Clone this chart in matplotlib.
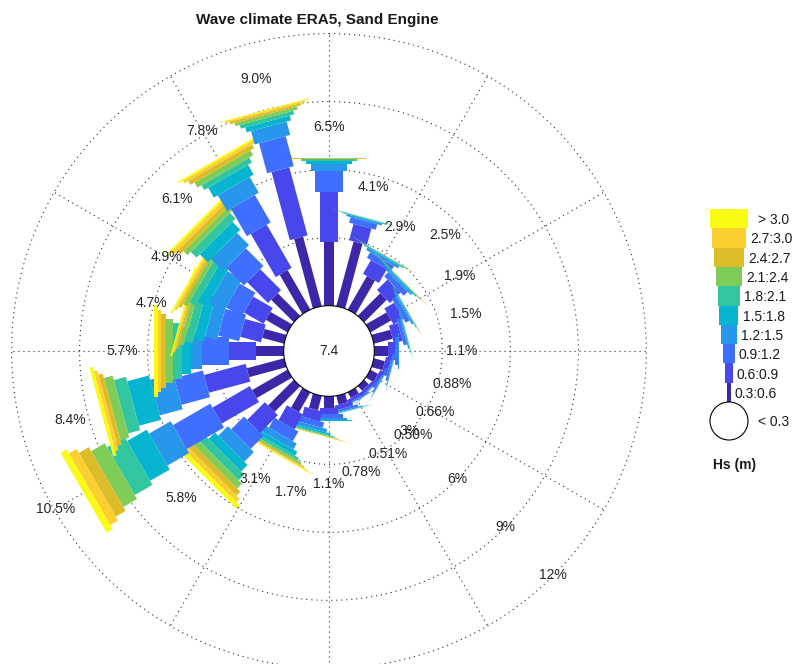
import numpy as np
import matplotlib
matplotlib.use('Agg')
import matplotlib.pyplot as plt
from matplotlib.patches import Polygon, Circle, Rectangle

plt.rcParams['font.family'] = ['Liberation Sans', 'DejaVu Sans']

# wave directions (coming from, degrees clockwise from north)
directions = np.arange(0, 360, 15)

# frequency (%) per Hs class and direction
hs_03_06 = [2.83, 2.95, 1.70, 1.40, 1.05, 0.85, 0.62, 0.50, 0.38, 0.28, 0.28, 0.40,
            0.50, 0.65, 1.00, 1.60, 1.80, 1.70, 1.20, 1.00, 1.10, 1.40, 2.00, 3.17]
hs_06_09 = [2.20, 0.75, 0.70, 0.65, 0.50, 0.40, 0.30, 0.24, 0.18, 0.14, 0.14, 0.20,
            0.30, 0.45, 0.75, 1.10, 1.90, 1.90, 1.20, 0.95, 1.00, 1.30, 2.20, 3.11]
hs_09_12 = [0.89, 0.25, 0.28, 0.25, 0.20, 0.15, 0.11, 0.09, 0.065, 0.05, 0.055, 0.10,
            0.15, 0.25, 0.50, 0.80, 1.90, 1.30, 1.20, 0.95, 0.80, 1.10, 1.40, 1.37]
hs_12_15 = [0.34, 0.08, 0.12, 0.10, 0.08, 0.06, 0.045, 0.035, 0.025, 0.02, 0.022, 0.045,
            0.08, 0.15, 0.30, 0.60, 1.10, 1.05, 0.50, 0.55, 0.75, 0.75, 0.80, 0.61]
hs_15_18 = [0.14, 0.04, 0.05, 0.05, 0.035, 0.025, 0.015, 0.01, 0.007, 0.007, 0.008, 0.02,
            0.04, 0.08, 0.20, 0.40, 1.00, 1.00, 0.40, 0.45, 0.45, 0.50, 0.50, 0.22]
hs_18_21 = [0.06, 0.02, 0.03, 0.025, 0.02, 0.01, 0.007, 0.005, 0.003, 0.003, 0.003, 0.01,
            0.02, 0.05, 0.12, 0.35, 0.90, 0.55, 0.40, 0.35, 0.30, 0.35, 0.25, 0.17]
hs_21_24 = [0.03, 0.01, 0.01, 0.01, 0.01, 0.005, 0.003, 0, 0, 0, 0.002, 0.005,
            0.007, 0.03, 0.09, 0.30, 0.70, 0.40, 0.30, 0.20, 0.20, 0.25, 0.25, 0.14]
hs_24_27 = [0.01, 0, 0.01, 0.01, 0.005, 0, 0, 0, 0, 0, 0, 0,
            0.003, 0.02, 0.06, 0.25, 0.50, 0.20, 0.20, 0.10, 0.12, 0.20, 0.20, 0.10]
hs_27_30 = [0, 0, 0, 0.005, 0, 0, 0, 0, 0, 0, 0, 0,
            0, 0.01, 0.04, 0.20, 0.40, 0.15, 0.15, 0.08, 0.10, 0.15, 0.12, 0.07]
hs_30_up = [0, 0, 0, 0, 0, 0, 0, 0, 0, 0, 0, 0,
            0, 0.01, 0.04, 0.20, 0.30, 0.15, 0.15, 0.07, 0.08, 0.10, 0.08, 0.04]

calm = 7.4
class_labels = ['0.3:0.6', '0.6:0.9', '0.9:1.2', '1.2:1.5', '1.5:1.8',
                '1.8:2.1', '2.1:2.4', '2.4:2.7', '2.7:3.0', '> 3.0']
ring_values = [3, 6, 9, 12]

# parula(10)
colors = ['#3E26A8', '#4747EB', '#3E6FFF', '#2796EB', '#08B5D0',
          '#31C69F', '#80CC59', '#DCBD29', '#FCCF30', '#F9FB15']

freq = np.array([hs_03_06, hs_06_09, hs_09_12, hs_12_15, hs_15_18,
                 hs_18_21, hs_21_24, hs_24_27, hs_27_30, hs_30_up])
cum = np.cumsum(freq, axis=0)
totals = cum[-1]

px = 22.67        # pixels per percent
R0 = 2.0          # radius of the calm circle (in % units)
bar_w = 9.2 / px  # width step per class
grid_kw = dict(ls=(0, (1, 3.5)), lw=0.8, color='#2b2b2b', zorder=1)

fig = plt.figure(figsize=(7.95, 6.64), dpi=100)
ax = fig.add_axes([0, 0, 1, 1])
ax.set_xlim(-329 / px, 466 / px)
ax.set_ylim(-313 / px, 351 / px)
ax.axis('off')

# grid circles and radial lines
t = np.linspace(0, 2 * np.pi, 721)
for p in ring_values:
    ax.plot((R0 + p) * np.sin(t), (R0 + p) * np.cos(t), **grid_kw)
for a in np.deg2rad(np.arange(0, 360, 30)):
    ax.plot([R0 * np.sin(a), (R0 + ring_values[-1]) * np.sin(a)],
            [R0 * np.cos(a), (R0 + ring_values[-1]) * np.cos(a)], **grid_kw)

# bars: one rectangle per class, wider for higher waves
for k, d in enumerate(directions):
    th = np.deg2rad(d)
    u = np.array([np.sin(th), np.cos(th)])
    v = np.array([np.cos(th), -np.sin(th)])
    lo = R0
    for j in range(len(colors)):
        hi = R0 + cum[j, k]
        if hi > lo:
            h = (j + 1) * bar_w / 2
            pts = [lo * u - h * v, hi * u - h * v, hi * u + h * v, lo * u + h * v]
            ax.add_patch(Polygon(pts, closed=True, fc=colors[j], ec='none', zorder=2))
        lo = hi

# calm circle
ax.add_patch(Circle((0, 0), R0, fc='white', ec='black', lw=0.8, zorder=3))
ax.text(0, 0, f'{calm:.1f}', ha='center', va='center', fontsize=10, color='#262626', zorder=6)

# ring labels
for p in ring_values:
    r = R0 + p
    ax.text(r * np.sin(np.deg2rad(135)), r * np.cos(np.deg2rad(135)), f'{p}%',
            ha='center', va='center', fontsize=10, color='#262626', zorder=6)

# direction totals
for d, tot in zip(directions, totals):
    r = R0 + tot + (1.4 if tot > 2.7 else 2.75)
    txt = f'{tot:.2f}%' if tot < 1 else f'{tot:.1f}%'
    ax.text(r * np.sin(np.deg2rad(d)), r * np.cos(np.deg2rad(d)), txt,
            ha='center', va='center', fontsize=10, color='#262626', zorder=6)

# legend
lx = 400 / px
ly_top = 142 / px
lh = 19.3 / px
for j in range(len(colors) - 1, -1, -1):
    w = (j + 1) * 3.8 / px
    y0 = ly_top - (len(colors) - j) * lh
    ax.add_patch(Rectangle((lx - w / 2, y0), w, lh, fc=colors[j], ec='none', zorder=2))
    gap = (10 if class_labels[j].startswith('>') else 4) / px
    ax.text(lx + w / 2 + gap, y0 + lh / 2 - 1.5 / px, class_labels[j],
            ha='left', va='center', fontsize=10, color='#1a1a1a')
cy = ly_top - len(colors) * lh - 19 / px
ax.add_patch(Circle((lx, cy), 19 / px, fc='white', ec='black', lw=0.8, zorder=3))
ax.text(lx + 19 / px + 10 / px, cy - 1.5 / px, '< 0.3', ha='left', va='center',
        fontsize=10, color='#1a1a1a')
ax.text(406 / px, -114 / px, 'Hs (m)', ha='center', va='center', fontsize=10,
        fontweight='bold', color='#1a1a1a')

fig.text(317 / 795, 1 - 20 / 664, 'Wave climate ERA5, Sand Engine', ha='center',
         va='center', fontsize=11, fontweight='bold', color='#1a1a1a')

fig.savefig('out.png', dpi=100)
